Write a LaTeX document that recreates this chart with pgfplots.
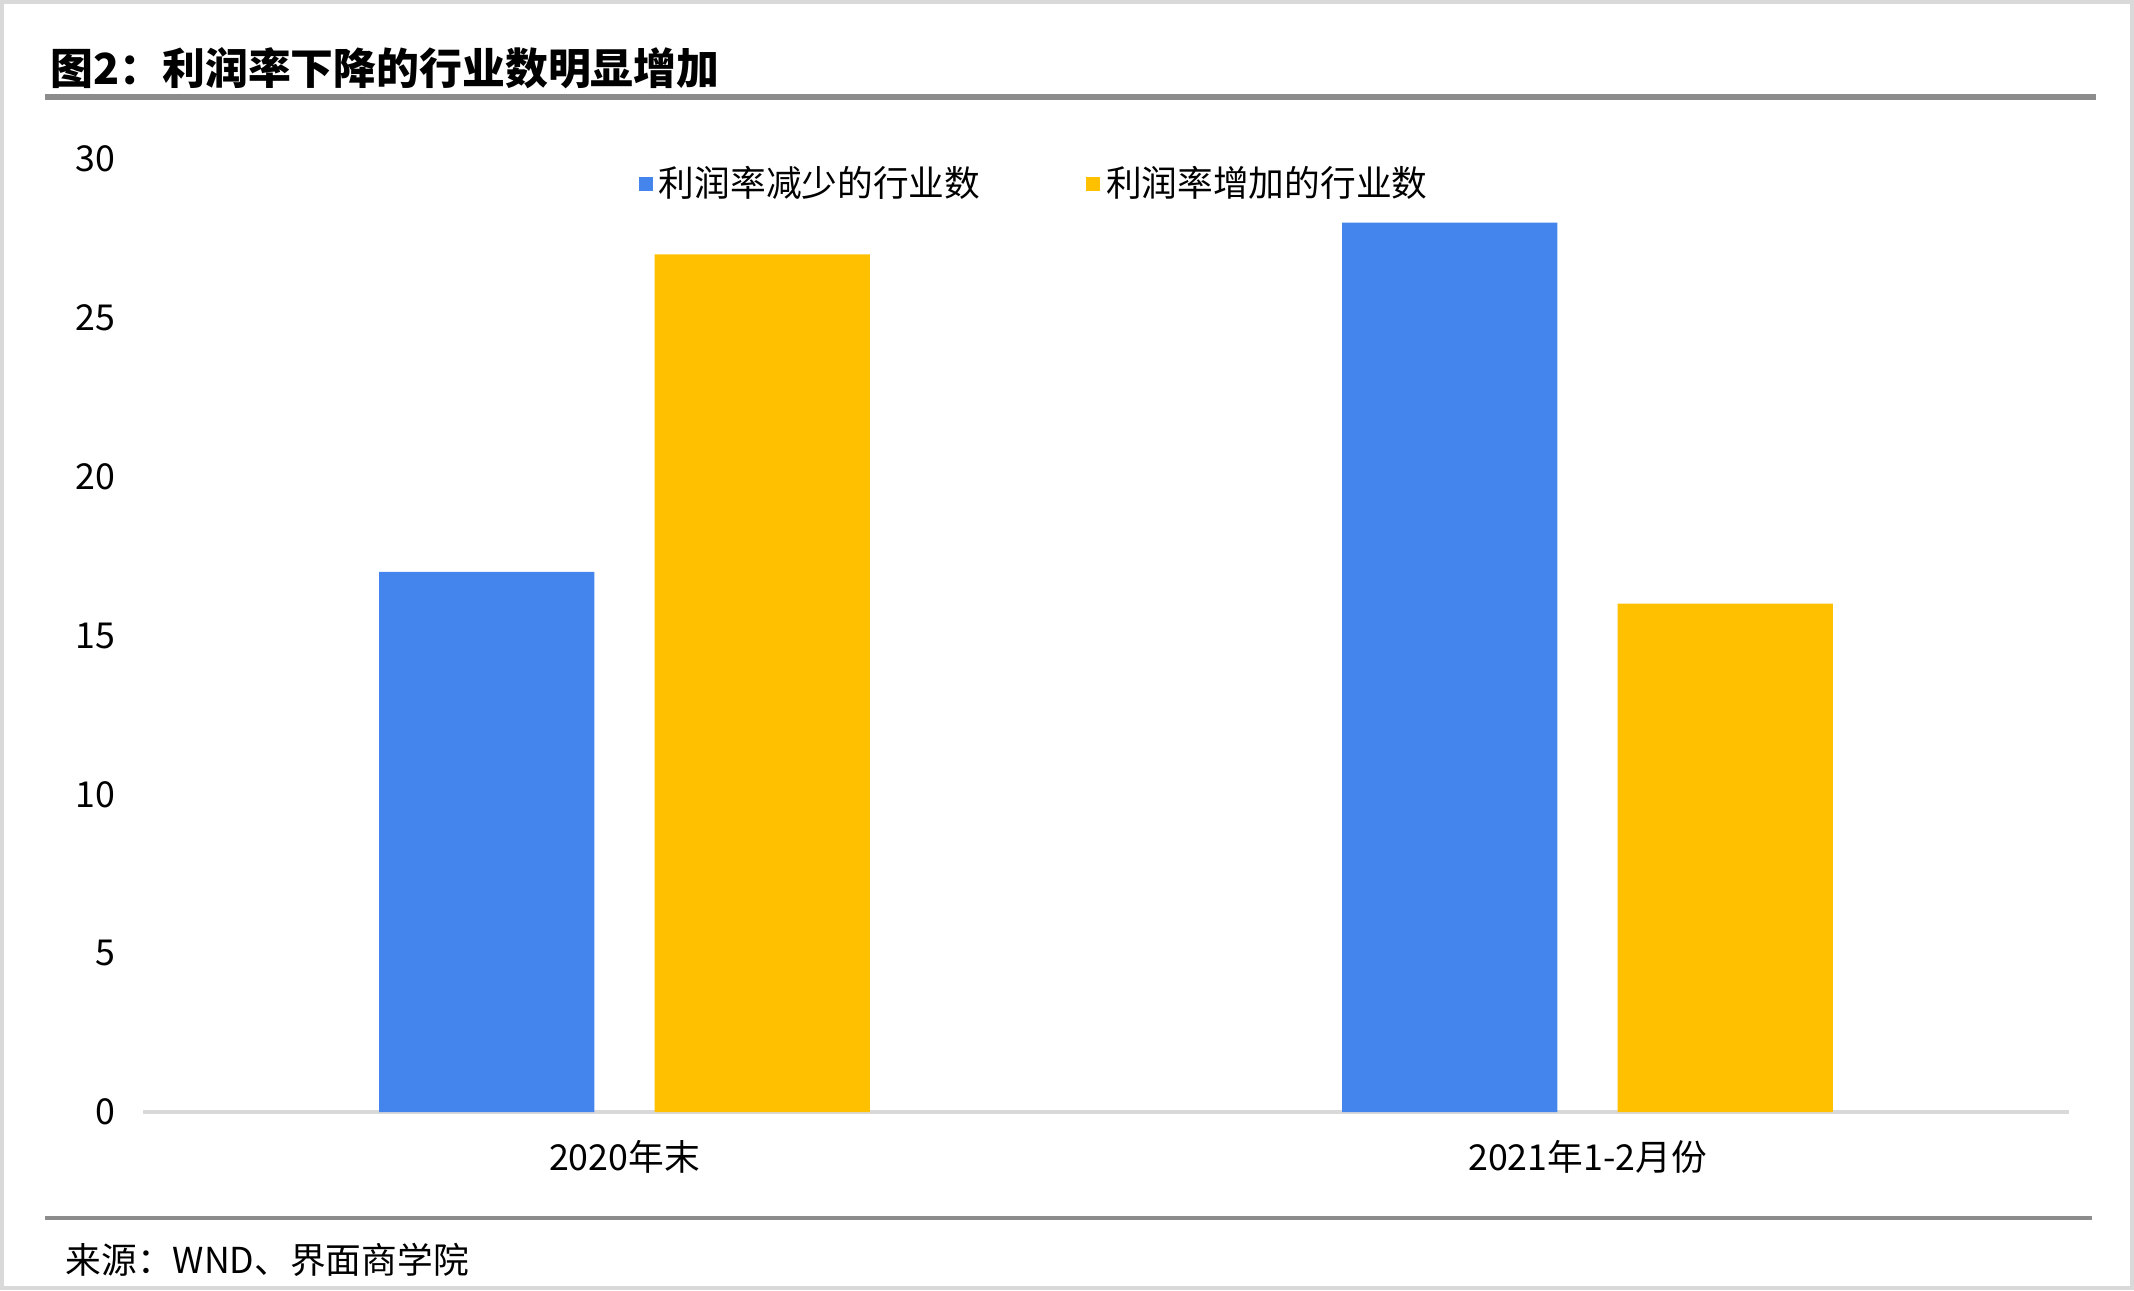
\documentclass[border=0pt]{standalone}
\usepackage{fontspec}
\setmainfont{Noto Sans CJK SC}
\usepackage{pgfplots}
\pgfplotsset{compat=1.18}
\definecolor{cblue}{HTML}{4385EC}
\definecolor{cyel}{HTML}{FFC000}
\definecolor{lgray}{HTML}{D9D9D9}
\definecolor{dgray}{HTML}{8C8C8C}
\begin{document}
\begin{tikzpicture}[x=0.35pt,y=0.35pt]
\path[use as bounding box] (0,0) rectangle (2134,1290);
\draw[lgray, line width=1.2pt] (2,2) rectangle (2132,1288);
\node[anchor=west, font=\fontsize{15}{18}\selectfont\bfseries, inner sep=0] at (50,1222) {图2：利润率下降的行业数明显增加};
\draw[dgray, line width=1.8pt] (45,1193) -- (2096,1193);
\draw[dgray, line width=1.6pt] (45,72) -- (2092,72);
\node[anchor=west, font=\fontsize{12.5}{15}\selectfont, inner sep=0] at (65,30) {来源：WND、界面商学院};
\begin{axis}[
  at={(50.05pt,62.3pt)}, anchor=south west, scale only axis,
  width=674.1pt, height=333.55pt,
  ymin=0, ymax=30, xmin=-0.5, xmax=1.5,
  ytick={0,5,...,30}, xtick={0,1},
  xticklabels={2020年末,2021年1-2月份},
  separate axis lines,
  axis x line*=bottom, axis y line*=left,
  x axis line style={-, draw=lgray, line width=1.1pt},
  y axis line style={draw=none},
  tick style={draw=none}, major tick length=0pt,
  /pgf/number format/assume math mode=true,
  ticklabel style={font=\fontsize{12.5}{15}\selectfont},
  yticklabel style={anchor=east, inner sep=0pt, xshift=-9.5pt},
  xticklabel style={anchor=center, inner sep=0pt, yshift=-15.75pt},
  ybar,
  legend style={at={(0.4637,0.9738)}, anchor=center, draw=none, fill=none,
    legend columns=2, font=\fontsize{12.5}{15}\selectfont,
    /tikz/every even column/.append style={column sep=35pt}},
  legend image code/.code={\fill[#1] (0pt,-2.5pt) rectangle (5pt,2.5pt);},
]
\addplot[fill=cblue, draw=none, bar width=0.2235, bar shift=-0.143] coordinates {(0,17) (1,28)};
\addlegendentry{利润率减少的行业数}
\addplot[fill=cyel, draw=none, bar width=0.2235, bar shift=0.143] coordinates {(0,27) (1,16)};
\addlegendentry{利润率增加的行业数}
\end{axis}
\end{tikzpicture}
\end{document}
